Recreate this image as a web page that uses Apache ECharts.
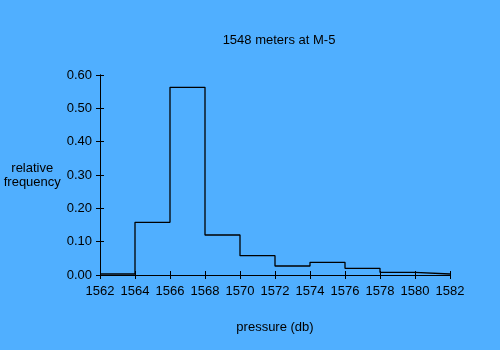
<!DOCTYPE html>
<html>
<head>
<meta charset="utf-8">
<script src="https://cdn.jsdelivr.net/npm/echarts@6/dist/echarts.min.js"></script>
<style>
  html, body { margin: 0; padding: 0; background: #50AFFF; }
  #chart { width: 500px; height: 350px; }
</style>
</head>
<body>
<div id="chart"></div>
<script>
// Histogram of pressure readings: bin edges (db) and relative frequency per bin
const binEdges = [1562, 1564, 1566, 1568, 1570, 1572, 1574, 1576, 1578, 1580, 1582];
const frequencies = [0.003, 0.158, 0.563, 0.120, 0.058, 0.027, 0.038, 0.020, 0.008, 0.003];
const titleText = '1548 meters at M-5';
const xName = 'pressure (db)';
const yName = 'relative\nfrequency';

// Step outline: each bin contributes its left and right corner at the bin height
const stepData = [];
frequencies.forEach((f, i) => {
  stepData.push([binEdges[i], f]);
  stepData.push([binEdges[i + 1], f]);
});

const font = { fontFamily: 'Liberation Sans, Arial, sans-serif', fontSize: 13, color: '#000' };
const axisLineStyle = { lineStyle: { color: '#000', width: 1 } };

const xBase = {
  type: 'value', min: 1562, max: 1582, interval: 2,
  axisLine: axisLineStyle, splitLine: { show: false }
};
const yBase = {
  type: 'value', min: 0, max: 0.6, interval: 0.1,
  axisLine: axisLineStyle, splitLine: { show: false }
};

const chart = echarts.init(document.getElementById('chart'), null, { renderer: 'canvas' });
chart.setOption({
  backgroundColor: '#50AFFF',
  animation: false,
  title: {
    text: titleText, left: 274, top: 29, textAlign: 'center',
    textStyle: Object.assign({}, font, { fontWeight: 'normal' })
  },
  grid: { left: 100, right: 50, top: 75, bottom: 75 },
  xAxis: [
    Object.assign({}, xBase, {
      name: xName, nameLocation: 'middle', nameGap: 46,
      nameTextStyle: font,
      axisTick: { show: true, inside: false, length: 4, lineStyle: { color: '#000' } },
      axisLabel: Object.assign({}, font, { margin: 10, formatter: v => String(v) })
    }),
    Object.assign({}, xBase, {
      position: 'bottom', gridIndex: 0,
      axisTick: { show: true, inside: true, length: 4, lineStyle: { color: '#000' } },
      axisLabel: { show: false }
    })
  ],
  yAxis: [
    Object.assign({}, yBase, {
      name: yName, nameLocation: 'middle', nameRotate: 0, nameGap: 66,
      nameTextStyle: Object.assign({}, font, { align: 'center', lineHeight: 14 }),
      axisTick: { show: true, inside: false, length: 4, lineStyle: { color: '#000' } },
      axisLabel: Object.assign({}, font, { margin: 8, formatter: v => v.toFixed(2) })
    }),
    Object.assign({}, yBase, {
      position: 'left', gridIndex: 0,
      axisTick: { show: true, inside: true, length: 4, lineStyle: { color: '#000' } },
      axisLabel: { show: false }
    })
  ],
  series: [{
    type: 'line',
    data: stepData,
    showSymbol: false,
    lineStyle: { color: '#000', width: 1.3 },
    z: 5
  }]
});
</script>
</body>
</html>
